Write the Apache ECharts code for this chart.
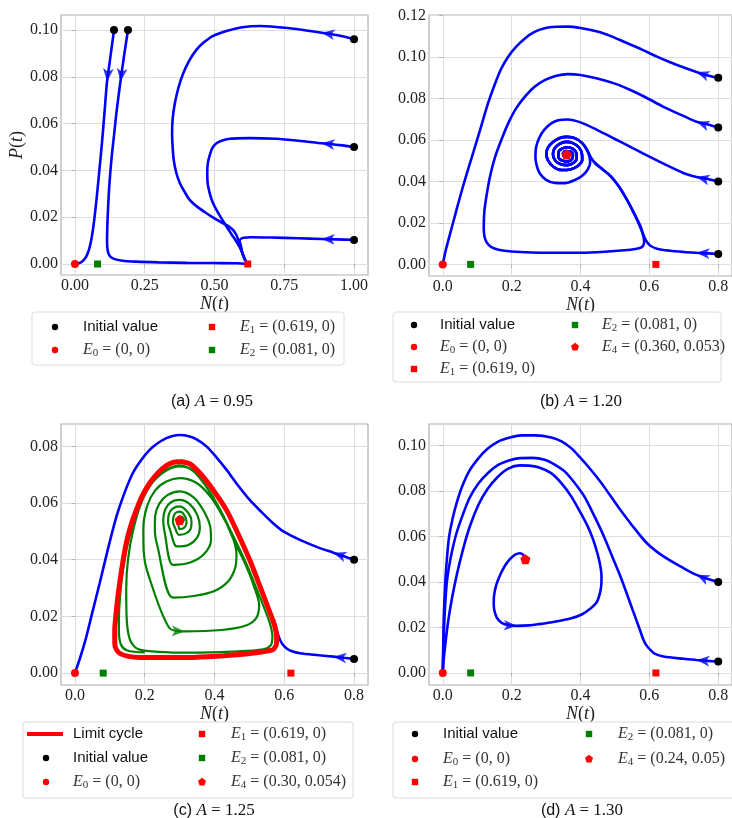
<!DOCTYPE html>
<html>
<head>
<meta charset="utf-8">
<script src="https://cdn.jsdelivr.net/npm/echarts@6/dist/echarts.min.js"></script>
<style>
  html, body { margin: 0; background: #fff; }
  #main { width: 732px; height: 818px; }
</style>
</head>
<body>
<div id="main"></div>
<script>
// ---------- tick values ----------
const xTicksA = [0, 0.25, 0.5, 0.75, 1.0]
const yTicksA = [0, 0.02, 0.04, 0.06, 0.08, 0.10]
const xTicksB = [0, 0.2, 0.4, 0.6, 0.8]
const yTicksB = [0, 0.02, 0.04, 0.06, 0.08, 0.10, 0.12]
const xTicksC = [0, 0.2, 0.4, 0.6, 0.8]
const yTicksC = [0, 0.02, 0.04, 0.06, 0.08]
const xTicksD = [0, 0.2, 0.4, 0.6, 0.8]
const yTicksD = [0, 0.02, 0.04, 0.06, 0.08, 0.10]

// ---------- equilibria ----------
const E0 = [[0, 0]]
const E1 = [[0.619, 0]]
const E2 = [[0.081, 0]]
const E4B = [[0.360, 0.053]]
const E4C = [[0.30, 0.054]]
const E4D = [[0.24, 0.05]]

// ---------- (a) A = 0.95 ----------
const initA = [[0.14, 0.1], [0.19, 0.1], [1.0, 0.096], [1.0, 0.05], [1.0, 0.0103]]
const trajA1 = [[0.140, 0.100], [0.123, 0.085], [0.115, 0.078], [0.106, 0.065], [0.097, 0.052], [0.089, 0.042], [0.081, 0.032], [0.074, 0.024], [0.066, 0.016], [0.058, 0.010], [0.050, 0.006], [0.040, 0.003], [0.028, 0.0013], [0.014, 0.0003], [0, 0]]
const trajA2 = [[0.190, 0.100], [0.176, 0.089], [0.163, 0.078], [0.150, 0.066], [0.140, 0.055], [0.131, 0.045], [0.124, 0.035], [0.119, 0.025], [0.116, 0.016], [0.115, 0.010], [0.117, 0.006], [0.124, 0.0035], [0.140, 0.0022], [0.170, 0.0014], [0.22, 0.0010], [0.30, 0.0007], [0.40, 0.0005], [0.50, 0.0004], [0.58, 0.0003], [0.619, 0]]
const trajA3 = [[1.0, 0.096], [0.95, 0.0975], [0.884, 0.0988], [0.80, 0.1003], [0.72, 0.1013], [0.663, 0.1017], [0.60, 0.1012], [0.55, 0.0998], [0.495, 0.0975], [0.46, 0.0945], [0.435, 0.0915], [0.41, 0.087], [0.388, 0.0815], [0.37, 0.075], [0.358, 0.0687], [0.350, 0.062], [0.348, 0.0558], [0.350, 0.050], [0.354, 0.0444], [0.363, 0.039], [0.376, 0.0345], [0.392, 0.031], [0.411, 0.0274], [0.44, 0.0243], [0.471, 0.0217], [0.50, 0.0195], [0.531, 0.0174], [0.552, 0.016], [0.567, 0.0145], [0.578, 0.0125], [0.585, 0.0103], [0.593, 0.0075], [0.600, 0.0046], [0.610, 0.0015], [0.619, 0]]
const trajA4 = [[1.0, 0.050], [0.95, 0.0508], [0.884, 0.0516], [0.80, 0.0527], [0.72, 0.0535], [0.627, 0.0538], [0.58, 0.0537], [0.555, 0.0535], [0.528, 0.0528], [0.507, 0.0516], [0.492, 0.0495], [0.483, 0.0465], [0.476, 0.043], [0.474, 0.0387], [0.476, 0.034], [0.483, 0.0302], [0.493, 0.0265], [0.507, 0.0231], [0.525, 0.0195], [0.543, 0.016], [0.562, 0.0125], [0.579, 0.0095], [0.592, 0.0068], [0.600, 0.0046], [0.610, 0.0018], [0.619, 0]]
const trajA5 = [[1.0, 0.0103], [0.884, 0.0107], [0.80, 0.0110], [0.70, 0.0113], [0.63, 0.0114], [0.605, 0.0112], [0.595, 0.0108], [0.590, 0.0100], [0.594, 0.008], [0.600, 0.0046], [0.610, 0.0017], [0.619, 0]]

// ---------- (b) A = 1.20 ----------
const initB = [[0.8, 0.09], [0.8, 0.066], [0.8, 0.04], [0.8, 0.005]]
const spiralB = [[0.428, 0.0490], [0.426, 0.0520], [0.418, 0.0555], [0.405, 0.0585], [0.385, 0.0608], [0.362, 0.0615], [0.340, 0.0610], [0.320, 0.0590], [0.305, 0.0562], [0.301, 0.0535], [0.306, 0.0500], [0.322, 0.0470], [0.345, 0.0455], [0.370, 0.0458], [0.392, 0.0475], [0.405, 0.0505], [0.404, 0.0535], [0.395, 0.0565], [0.378, 0.0585], [0.358, 0.0591], [0.338, 0.0580], [0.324, 0.0558], [0.320, 0.0530], [0.327, 0.0500], [0.343, 0.0483], [0.362, 0.0479], [0.380, 0.0490], [0.389, 0.0512], [0.388, 0.0537], [0.378, 0.0557], [0.362, 0.0565], [0.345, 0.0557], [0.336, 0.0540], [0.336, 0.0517], [0.348, 0.0500], [0.364, 0.0497], [0.376, 0.0510], [0.378, 0.0530], [0.370, 0.0545], [0.357, 0.0547], [0.349, 0.0535], [0.352, 0.0520], [0.362, 0.0518], [0.367, 0.0528], [0.361, 0.0533], [0.360, 0.053]]
const trajB1 = [[0.8, 0.090], [0.76, 0.0915], [0.737, 0.0928], [0.70, 0.0950], [0.66, 0.0975], [0.622, 0.1002], [0.58, 0.1035], [0.526, 0.1074], [0.49, 0.1100], [0.449, 0.1123], [0.40, 0.1140], [0.363, 0.1147], [0.33, 0.1146], [0.296, 0.1139], [0.265, 0.1120], [0.2386, 0.109], [0.212, 0.1048], [0.19, 0.1002], [0.17, 0.0945], [0.152, 0.0873], [0.132, 0.078], [0.114, 0.068], [0.095, 0.0575], [0.0757, 0.047], [0.056, 0.036], [0.037, 0.0245], [0.020, 0.0140], [0.0086, 0.0068], [0.003, 0.0025], [0, 0]]
const diagB = [[0.556, 0.0245], [0.536, 0.0309], [0.512, 0.0375], [0.488, 0.0425], [0.463, 0.0460], [0.443, 0.0488], [0.430, 0.0515]]
const trajB2 = [[0.8, 0.066], [0.77, 0.0675], [0.737, 0.0688], [0.70, 0.0715], [0.641, 0.0760], [0.59, 0.0805], [0.545, 0.0841], [0.50, 0.0872], [0.449, 0.0897], [0.40, 0.0914], [0.363, 0.0918], [0.33, 0.0910], [0.296, 0.0889], [0.265, 0.0855], [0.2386, 0.0809], [0.212, 0.0750], [0.19, 0.0680], [0.170, 0.0600], [0.152, 0.0519], [0.138, 0.0430], [0.128, 0.0341], [0.121, 0.0260], [0.119, 0.0180], [0.121, 0.0135], [0.128, 0.0105], [0.140, 0.0085], [0.162, 0.0071], [0.20, 0.0062], [0.258, 0.0057], [0.33, 0.0056], [0.401, 0.0056], [0.47, 0.0061], [0.545, 0.0071], [0.570, 0.0078], [0.581, 0.0088], [0.585, 0.0110], [0.582, 0.0140], [0.576, 0.0170]].concat(diagB, spiralB.slice(2))
const trajB3 = [[0.8, 0.04], [0.77, 0.0412], [0.737, 0.0422], [0.70, 0.0440], [0.641, 0.0486], [0.59, 0.0528], [0.545, 0.0567], [0.50, 0.0605], [0.449, 0.0648], [0.40, 0.0685], [0.363, 0.0699], [0.335, 0.0695], [0.315, 0.0680], [0.295, 0.0650], [0.280, 0.0610], [0.271, 0.0565], [0.269, 0.0519], [0.273, 0.0475], [0.282, 0.0438], [0.300, 0.0408], [0.325, 0.0393], [0.355, 0.0392], [0.382, 0.0406], [0.405, 0.0428], [0.421, 0.0458]].concat(spiralB)
const trajB4 = [[0.8, 0.005], [0.77, 0.0053], [0.737, 0.0056], [0.70, 0.0060], [0.66, 0.0066], [0.622, 0.0076], [0.603, 0.0090], [0.593, 0.0108], [0.586, 0.0130], [0.580, 0.0155], [0.574, 0.0185]].concat(diagB, spiralB.slice(2))

// ---------- (c) A = 1.25 ----------
const initC = [[0.8, 0.04], [0.8, 0.005]]
const trajC1 = [[0.8, 0.040], [0.77, 0.0412], [0.741, 0.0425], [0.70, 0.0442], [0.645, 0.0470], [0.60, 0.0498], [0.568, 0.0529], [0.535, 0.0568], [0.501, 0.0611], [0.467, 0.0663], [0.434, 0.0718], [0.405, 0.0762], [0.377, 0.0800], [0.35, 0.0824], [0.329, 0.0835], [0.30, 0.0840], [0.28, 0.0837], [0.262, 0.0829], [0.238, 0.0812], [0.214, 0.0788], [0.19, 0.0752], [0.166, 0.0706], [0.142, 0.0636], [0.119, 0.0553], [0.095, 0.0440], [0.0708, 0.0317], [0.050, 0.0215], [0.0325, 0.0128], [0.015, 0.0055], [0, 0]]
const trajC2 = [[0.8, 0.005], [0.77, 0.0054], [0.741, 0.0058], [0.70, 0.0063], [0.645, 0.0070], [0.620, 0.0078], [0.607, 0.0087], [0.596, 0.0100], [0.588, 0.0117], [0.581, 0.0140], [0.576, 0.0164], [0.570, 0.0190]]
const cycleC = [[0.300, 0.0747], [0.330, 0.0738], [0.358, 0.0706], [0.395, 0.0648], [0.434, 0.0576], [0.468, 0.0490], [0.501, 0.0399], [0.526, 0.0320], [0.549, 0.0246], [0.563, 0.0200], [0.573, 0.0164], [0.578, 0.0130], [0.578, 0.0105], [0.572, 0.0088], [0.564, 0.0081], [0.520, 0.0072], [0.454, 0.0064], [0.380, 0.0058], [0.310, 0.0055], [0.240, 0.0055], [0.186, 0.0055], [0.150, 0.0060], [0.128, 0.0070], [0.118, 0.0085], [0.114, 0.0105], [0.114, 0.0150], [0.117, 0.0199], [0.122, 0.0260], [0.128, 0.0317], [0.137, 0.0390], [0.147, 0.0458], [0.160, 0.0520], [0.176, 0.0576], [0.194, 0.0628], [0.214, 0.0670], [0.237, 0.0705], [0.262, 0.0732], [0.282, 0.0744], [0.300, 0.0747]]
const greenC = [
  [0.300, 0.0540], [0.306, 0.0530], [0.312, 0.0540], [0.306, 0.0552], [0.296, 0.0550], [0.292, 0.0538], [0.296, 0.0525],
  [0.300, 0.0508], [0.314, 0.0514], [0.320, 0.0532], [0.314, 0.0557], [0.300, 0.0570], [0.288, 0.0565], [0.282, 0.0550], [0.281, 0.0532], [0.286, 0.0515],
  [0.298, 0.0488], [0.320, 0.0494], [0.332, 0.0510], [0.334, 0.0535], [0.325, 0.0565], [0.300, 0.0588], [0.280, 0.0580], [0.269, 0.0560], [0.267, 0.0530], [0.272, 0.0508],
  [0.292, 0.0447], [0.325, 0.0452], [0.350, 0.0478], [0.358, 0.0515], [0.350, 0.0560], [0.328, 0.0597], [0.300, 0.0611], [0.275, 0.0603], [0.259, 0.0578], [0.253, 0.0540], [0.257, 0.0497],
  [0.281, 0.0382], [0.330, 0.0390], [0.370, 0.0420], [0.390, 0.0470], [0.388, 0.0515], [0.370, 0.0570], [0.340, 0.0620], [0.300, 0.0641], [0.265, 0.0628], [0.242, 0.0598], [0.230, 0.0555], [0.229, 0.0505], [0.236, 0.0450],
  [0.281, 0.0266], [0.340, 0.0272], [0.400, 0.0290], [0.440, 0.0325], [0.460, 0.0375], [0.463, 0.0420], [0.452, 0.0480], [0.425, 0.0550], [0.390, 0.0620], [0.350, 0.0670], [0.300, 0.0688], [0.262, 0.0676], [0.230, 0.0645], [0.207, 0.0590], [0.196, 0.0510], [0.197, 0.0430], [0.207, 0.0360],
  [0.270, 0.0160], [0.315, 0.0147], [0.420, 0.0152], [0.490, 0.0168], [0.520, 0.0195], [0.528, 0.0240], [0.515, 0.0300], [0.490, 0.0380], [0.455, 0.0470], [0.415, 0.0580], [0.370, 0.0670], [0.335, 0.0718], [0.300, 0.0729], [0.262, 0.0715], [0.222, 0.0672], [0.190, 0.0600], [0.166, 0.0500], [0.152, 0.0400], [0.147, 0.0300], [0.148, 0.0200], [0.157, 0.0120],
  [0.180, 0.0085], [0.240, 0.0075], [0.330, 0.0072], [0.450, 0.0076], [0.540, 0.0084], [0.562, 0.0100], [0.566, 0.0130], [0.560, 0.0170], [0.545, 0.0222], [0.520, 0.0300], [0.490, 0.0390], [0.455, 0.0480], [0.415, 0.0580], [0.375, 0.0660], [0.340, 0.0712], [0.300, 0.0733], [0.265, 0.0720], [0.230, 0.0688], [0.198, 0.0632], [0.172, 0.0550], [0.150, 0.0450], [0.135, 0.0340], [0.127, 0.0230], [0.126, 0.0150], [0.132, 0.0100], [0.150, 0.0080], [0.200, 0.0073]
]

// ---------- (d) A = 1.30 ----------
const initD = [[0.8, 0.04], [0.8, 0.005]]
const trajD1 = [[0.8, 0.040], [0.77, 0.0413], [0.737, 0.0431], [0.70, 0.0460], [0.641, 0.0512], [0.593, 0.0570], [0.545, 0.0658], [0.515, 0.0718], [0.488, 0.0776], [0.459, 0.0838], [0.43, 0.0893], [0.40, 0.0945], [0.373, 0.0988], [0.345, 0.1018], [0.315, 0.1035], [0.27, 0.1044], [0.229, 0.1044], [0.195, 0.1035], [0.162, 0.1018], [0.130, 0.0985], [0.104, 0.0944], [0.078, 0.0890], [0.0565, 0.082], [0.040, 0.0745], [0.0278, 0.0673], [0.0185, 0.0600], [0.0134, 0.0526], [0.0085, 0.0430], [0.0057, 0.035], [0.0030, 0.0250], [0.0019, 0.016], [0.0008, 0.007], [0, 0]]
const trajD2 = [[0.8, 0.005], [0.77, 0.0053], [0.737, 0.0057], [0.70, 0.0062], [0.641, 0.0072], [0.615, 0.0085], [0.603, 0.0101], [0.592, 0.0120], [0.583, 0.0145], [0.570, 0.0200], [0.555, 0.0262], [0.536, 0.0342], [0.516, 0.0424], [0.492, 0.0512], [0.468, 0.0600], [0.440, 0.0690], [0.411, 0.0776], [0.383, 0.0835], [0.354, 0.0886], [0.325, 0.0916], [0.296, 0.0937], [0.260, 0.0945], [0.224, 0.0944], [0.192, 0.0934], [0.162, 0.0915], [0.132, 0.0880], [0.104, 0.0834], [0.078, 0.0770], [0.0565, 0.0688], [0.040, 0.0615], [0.0278, 0.0541], [0.0180, 0.0465], [0.0115, 0.0394], [0.0070, 0.0300], [0.0038, 0.0204], [0.0015, 0.0100], [0, 0]]
const trajD3 = [[0.240, 0.0500], [0.233, 0.0520], [0.224, 0.0526], [0.210, 0.0520], [0.195, 0.0500], [0.180, 0.0470], [0.1665, 0.0430], [0.155, 0.0385], [0.149, 0.0340], [0.148, 0.0300], [0.152, 0.0262], [0.162, 0.0232], [0.180, 0.0214], [0.215, 0.0207], [0.250, 0.0209], [0.277, 0.0214], [0.325, 0.0225], [0.373, 0.0240], [0.405, 0.0258], [0.430, 0.0284], [0.446, 0.0308], [0.454, 0.0336], [0.460, 0.0380], [0.461, 0.0424], [0.457, 0.0475], [0.449, 0.0526], [0.437, 0.0585], [0.421, 0.0644], [0.398, 0.0710], [0.373, 0.0776], [0.345, 0.0833], [0.315, 0.0878], [0.280, 0.0903], [0.250, 0.0911], [0.224, 0.0912], [0.190, 0.0898], [0.160, 0.0862], [0.130, 0.0808], [0.104, 0.0740], [0.080, 0.0650], [0.060, 0.0550], [0.042, 0.0440], [0.027, 0.0330], [0.015, 0.0220], [0.007, 0.0120], [0.002, 0.0050], [0, 0]]

// ---------- layout ----------
const BLUE = '#0000ff'
const RED = '#ff0000'
const GREEN = '#008000'
const SERIF = 'Liberation Serif'
const SANS = 'Liberation Sans'
const FRAME = '#b0b0b0'

const panels = [
  { grid: { left: 61, top: 15, width: 307, height: 260 }, xr: [-0.05, 1.05], yr: [-0.0047, 0.1064], xt: xTicksA, yt: yTicksA, xd: 2, yd: 2 },
  { grid: { left: 429, top: 15, width: 306, height: 261 }, xr: [-0.04, 0.84], yr: [-0.0056, 0.1203], xt: xTicksB, yt: yTicksB, xd: 1, yd: 2 },
  { grid: { left: 61, top: 424, width: 307, height: 261 }, xr: [-0.04, 0.84], yr: [-0.0042, 0.0879], xt: xTicksC, yt: yTicksC, xd: 1, yd: 2 },
  { grid: { left: 429, top: 424, width: 306, height: 261 }, xr: [-0.04, 0.84], yr: [-0.0053, 0.1094], xt: xTicksD, yt: yTicksD, xd: 1, yd: 2 }
]

const nameRich = {
  it: { fontFamily: SERIF, fontStyle: 'italic', fontSize: 18, color: '#222' },
  rm: { fontFamily: SERIF, fontSize: 18, color: '#222' }
}

function makeAxis (p, i, dim) {
  const vals = dim === 'x' ? p.xt : p.yt
  const dec = dim === 'x' ? p.xd : p.yd
  const range = dim === 'x' ? p.xr : p.yr
  const ax = {
    type: 'value',
    gridIndex: i,
    min: range[0],
    max: range[1],
    position: dim === 'x' ? 'bottom' : 'left',
    axisLine: { show: false },
    axisTick: { show: true, inside: false, length: 3.5, lineStyle: { color: FRAME, width: 1 }, customValues: vals },
    axisLabel: { customValues: vals, formatter: v => v.toFixed(dec), margin: 3, color: '#222', fontFamily: SERIF, fontSize: 16 },
    splitLine: { show: true, lineStyle: { color: '#dedede', width: 1 } }
  }
  if (dim === 'x') {
    ax.name = '{it|N}{rm|(}{it|t}{rm|)}'
    ax.nameLocation = 'middle'
    ax.nameGap = 17
    ax.nameTextStyle = { rich: nameRich }
  }
  if (dim === 'y' && i === 0) {
    ax.name = '{it|P}{rm|(}{it|t}{rm|)}'
    ax.nameLocation = 'middle'
    ax.nameGap = 31
    ax.nameTextStyle = { rich: nameRich }
  }
  return ax
}

const xAxis = panels.map((p, i) => makeAxis(p, i, 'x'))
const yAxis = panels.map((p, i) => makeAxis(p, i, 'y'))
const grid = panels.map(p => Object.assign({ show: true, borderColor: FRAME, borderWidth: 1.2 }, p.grid))

const PENT = 'path://M0,-10 L9.51,-3.09 L5.88,8.09 L-5.88,8.09 L-9.51,-3.09 Z'

function line (panel, data, color, width, z) {
  return { type: 'line', xAxisIndex: panel, yAxisIndex: panel, data: data, showSymbol: false, symbol: 'none', smooth: 0.3, lineStyle: { color: color, width: width }, z: z, silent: true, animation: false }
}
function dots (panel, data, symbol, color, size) {
  return { type: 'scatter', xAxisIndex: panel, yAxisIndex: panel, data: data, symbol: symbol, symbolSize: size, itemStyle: { color: color, opacity: 1 }, z: 6, silent: true, animation: false }
}
function equilibria (panel, e4) {
  const out = [dots(panel, E0, 'circle', RED, 8), dots(panel, E1, 'rect', RED, 7), dots(panel, E2, 'rect', GREEN, 7)]
  if (e4) out.push(dots(panel, e4, PENT, RED, 10))
  return out
}

const LW = 2.6
const series = [].concat(
  [trajA1, trajA2, trajA3, trajA4, trajA5].map(d => line(0, d, BLUE, LW, 2)),
  [dots(0, initA, 'circle', '#000', 8)], equilibria(0, null),
  [trajB1, trajB2, trajB3, trajB4].map(d => line(1, d, BLUE, LW, 2)),
  [dots(1, initB, 'circle', '#000', 8)], equilibria(1, E4B),
  [line(2, trajC1, BLUE, LW, 2), line(2, trajC2, BLUE, LW, 2), line(2, greenC, GREEN, 2.2, 3), line(2, cycleC, RED, 5, 4)],
  [dots(2, initC, 'circle', '#000', 8)], equilibria(2, E4C),
  [trajD1, trajD2, trajD3].map(d => line(3, d, BLUE, LW, 2)),
  [dots(3, initD, 'circle', '#000', 8)], equilibria(3, E4D)
)

// arrows sit on the curves; direction comes from the neighbouring points
const arrows = [
  { panel: 0, curve: trajA1, at: [0.115, 0.078], color: BLUE },
  { panel: 0, curve: trajA2, at: [0.163, 0.078], color: BLUE },
  { panel: 0, curve: trajA3, at: [0.884, 0.0988], color: BLUE },
  { panel: 0, curve: trajA4, at: [0.884, 0.0516], color: BLUE },
  { panel: 0, curve: trajA5, at: [0.884, 0.0107], color: BLUE },
  { panel: 1, curve: trajB1, at: [0.737, 0.0928], color: BLUE },
  { panel: 1, curve: trajB2, at: [0.737, 0.0688], color: BLUE },
  { panel: 1, curve: trajB3, at: [0.737, 0.0422], color: BLUE },
  { panel: 1, curve: trajB4, at: [0.737, 0.0056], color: BLUE },
  { panel: 2, curve: trajC1, at: [0.741, 0.0425], color: BLUE },
  { panel: 2, curve: trajC2, at: [0.741, 0.0058], color: BLUE },
  { panel: 2, curve: greenC, at: [0.315, 0.0147], color: GREEN },
  { panel: 3, curve: trajD1, at: [0.737, 0.0431], color: BLUE },
  { panel: 3, curve: trajD2, at: [0.737, 0.0057], color: BLUE },
  { panel: 3, curve: trajD3, at: [0.215, 0.0207], color: BLUE }
]

// ---------- legends & captions (graphic) ----------
const gRich = {
  it: { fontFamily: SERIF, fontStyle: 'italic', fontSize: 16, lineHeight: 18, fill: '#333' },
  rm: { fontFamily: SERIF, fontSize: 16, lineHeight: 18, fill: '#333' },
  sub: { fontFamily: SERIF, fontSize: 11, lineHeight: 8, verticalAlign: 'bottom', fill: '#333' },
  sf: { fontFamily: SANS, fontSize: 15, lineHeight: 18, fill: '#111' },
  cap: { fontFamily: SANS, fontSize: 16, lineHeight: 18, fill: '#111' },
  cit: { fontFamily: SERIF, fontStyle: 'italic', fontSize: 17, lineHeight: 18, fill: '#111' },
  crm: { fontFamily: SERIF, fontSize: 17, lineHeight: 18, fill: '#111' }
}
const eq = (k, rest) => '{it|E}{sub|' + k + '}{rm| = ' + rest + '}'

function marker (kind, color, cx, cy) {
  if (kind === 'dot') return { type: 'circle', shape: { cx: cx, cy: cy, r: 3.2 }, style: { fill: color } }
  if (kind === 'sq') return { type: 'rect', shape: { x: cx - 3.2, y: cy - 3.2, width: 6.4, height: 6.4 }, style: { fill: color } }
  if (kind === 'line') return { type: 'line', shape: { x1: cx - 18, y1: cy, x2: cx + 18, y2: cy }, style: { stroke: color, lineWidth: 4 } }
  const pts = []
  for (let k = 0; k < 5; k++) {
    const a = (-90 + k * 72) * Math.PI / 180
    pts.push([cx + 4.2 * Math.cos(a), cy + 4.2 * Math.sin(a)])
  }
  return { type: 'polygon', shape: { points: pts }, style: { fill: color } }
}

function legend (box, items) {
  const els = [{ type: 'rect', shape: { x: box[0], y: box[1], width: box[2], height: box[3], r: 3 }, style: { fill: 'rgba(255,255,255,0.85)', stroke: '#dcdcdc', lineWidth: 1 }, z: 10 }]
  items.forEach(it => {
    const m = marker(it.kind, it.color, it.mx, it.y)
    m.z = 11
    els.push(m)
    els.push({ type: 'text', x: it.tx, y: it.y, z: 11, style: { text: it.label, rich: gRich, align: 'left', verticalAlign: 'middle' } })
  })
  return els
}

const iv = '{sf|Initial value}'
const graphic = [].concat(
  legend([32, 312, 312, 53], [
    { kind: 'dot', color: '#000', mx: 55, tx: 83, y: 327, label: iv },
    { kind: 'dot', color: RED, mx: 55, tx: 83, y: 350, label: eq(0, '(0, 0)') },
    { kind: 'sq', color: RED, mx: 212, tx: 240, y: 327, label: eq(1, '(0.619, 0)') },
    { kind: 'sq', color: GREEN, mx: 212, tx: 240, y: 350, label: eq(2, '(0.081, 0)') }
  ]),
  legend([393, 312, 328, 70], [
    { kind: 'dot', color: '#000', mx: 414, tx: 440, y: 325, label: iv },
    { kind: 'dot', color: RED, mx: 414, tx: 440, y: 347, label: eq(0, '(0, 0)') },
    { kind: 'sq', color: RED, mx: 414, tx: 440, y: 369, label: eq(1, '(0.619, 0)') },
    { kind: 'sq', color: GREEN, mx: 575, tx: 602, y: 325, label: eq(2, '(0.081, 0)') },
    { kind: 'pent', color: RED, mx: 575, tx: 602, y: 347, label: eq(4, '(0.360, 0.053)') }
  ]),
  legend([23, 722, 330, 76], [
    { kind: 'line', color: RED, mx: 45, tx: 73, y: 734, label: '{sf|Limit cycle}' },
    { kind: 'dot', color: '#000', mx: 46, tx: 73, y: 758, label: iv },
    { kind: 'dot', color: RED, mx: 46, tx: 73, y: 782, label: eq(0, '(0, 0)') },
    { kind: 'sq', color: RED, mx: 202, tx: 231, y: 734, label: eq(1, '(0.619, 0)') },
    { kind: 'sq', color: GREEN, mx: 202, tx: 231, y: 758, label: eq(2, '(0.081, 0)') },
    { kind: 'pent', color: RED, mx: 202, tx: 231, y: 782, label: eq(4, '(0.30, 0.054)') }
  ]),
  legend([393, 722, 345, 76], [
    { kind: 'dot', color: '#000', mx: 415, tx: 443, y: 734, label: iv },
    { kind: 'dot', color: RED, mx: 415, tx: 443, y: 759, label: eq(0, '(0, 0)') },
    { kind: 'sq', color: RED, mx: 415, tx: 443, y: 782, label: eq(1, '(0.619, 0)') },
    { kind: 'sq', color: GREEN, mx: 589, tx: 618, y: 734, label: eq(2, '(0.081, 0)') },
    { kind: 'pent', color: RED, mx: 589, tx: 618, y: 759, label: eq(4, '(0.24, 0.05)') }
  ]),
  [
    ['(a) ', '0.95', 212, 402], ['(b) ', '1.20', 581, 402],
    ['(c) ', '1.25', 214, 811], ['(d) ', '1.30', 582, 811]
  ].map(c => ({ type: 'text', x: c[2], y: c[3], z: 11, style: { text: '{cap|' + c[0] + '}{cit|A}{crm| = ' + c[1] + '}', rich: gRich, align: 'center', verticalAlign: 'middle' } }))
)

const chart = echarts.init(document.getElementById('main'))
chart.setOption({ animation: false, grid: grid, xAxis: xAxis, yAxis: yAxis, series: series, graphic: graphic })

// second pass: rotate the arrowheads along the curves in pixel space
const arrowSeries = [0, 1, 2, 3].map(panel => {
  const items = arrows.filter(a => a.panel === panel).map(a => {
    const px = q => chart.convertToPixel({ gridIndex: panel }, q)
    const pts = a.curve.map(px)
    const pa = px(a.at)
    let j = 0
    let best = Infinity
    pts.forEach((q, k) => {
      const d = (q[0] - pa[0]) ** 2 + (q[1] - pa[1]) ** 2
      if (d < best) { best = d; j = k }
    })
    const p0 = pts[Math.max(j - 1, 0)]
    const p1 = pts[Math.min(j + 1, pts.length - 1)]
    const ang = Math.atan2(-(p1[1] - p0[1]), p1[0] - p0[0]) * 180 / Math.PI
    return { value: a.at, symbolRotate: ang - 90, itemStyle: { color: a.color } }
  })
  return { type: 'scatter', xAxisIndex: panel, yAxisIndex: panel, data: items, symbol: 'arrow', symbolSize: [8, 13], z: 7, silent: true, animation: false }
})
chart.setOption({ series: series.concat(arrowSeries) })
</script>
</body>
</html>
